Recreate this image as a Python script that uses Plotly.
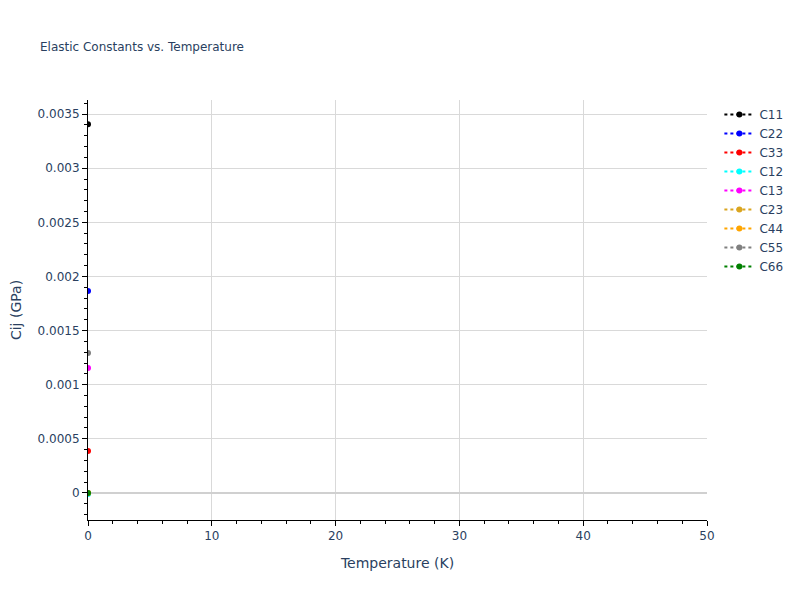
import plotly.graph_objects as go

names = ["C11", "C22", "C33", "C12", "C13", "C23", "C44", "C55", "C66"]
colors = ["black", "blue", "red", "cyan", "magenta", "goldenrod", "orange", "gray", "green"]
temperature = [0]
values = {
    "C11": [0.003405],
    "C22": [0.001865],
    "C33": [0.000388],
    "C12": [-0.00001],
    "C13": [0.001155],
    "C23": [0.0],
    "C44": [0.0],
    "C55": [0.001293],
    "C66": [0.0],
}

fig = go.Figure()
for n, c in zip(names, colors):
    fig.add_trace(go.Scatter(x=temperature, y=values[n], mode="lines+markers", name=n,
                             line=dict(color=c, dash="dot"), marker=dict(color=c, size=6)))

axis_common = dict(showline=True, linecolor="black", ticks="outside", tickcolor="black",
                   showgrid=True, gridcolor="#d9d9d9", zeroline=True, zerolinecolor="#d0d0d0",
                   zerolinewidth=2, minor=dict(ticks="outside", tickcolor="black", ticklen=3),
                   tickfont=dict(size=12, color="#2a3f5f"), layer="below traces", automargin=False)
fig.update_layout(
    template="plotly_white",
    width=800, height=600,
    font=dict(family="DejaVu Sans", color="#2a3f5f"),
    title=dict(text="Elastic Constants vs. Temperature", font=dict(size=12, color="#2a3f5f"), x=0.04, y=0.942),
    xaxis=dict(title=dict(text="Temperature (K)", font=dict(size=14, color="#2a3f5f")), range=[0, 50], **axis_common),
    yaxis=dict(title=dict(text="Cij (GPa)", font=dict(size=14, color="#2a3f5f"), standoff=22),
               range=[-0.00025, 0.00363], tickformat="~g", **axis_common),
    margin=dict(l=80, r=101, t=92, b=88),
    legend=dict(font=dict(size=12, color="#2a3f5f")),
)
fig.write_html("out.html")
